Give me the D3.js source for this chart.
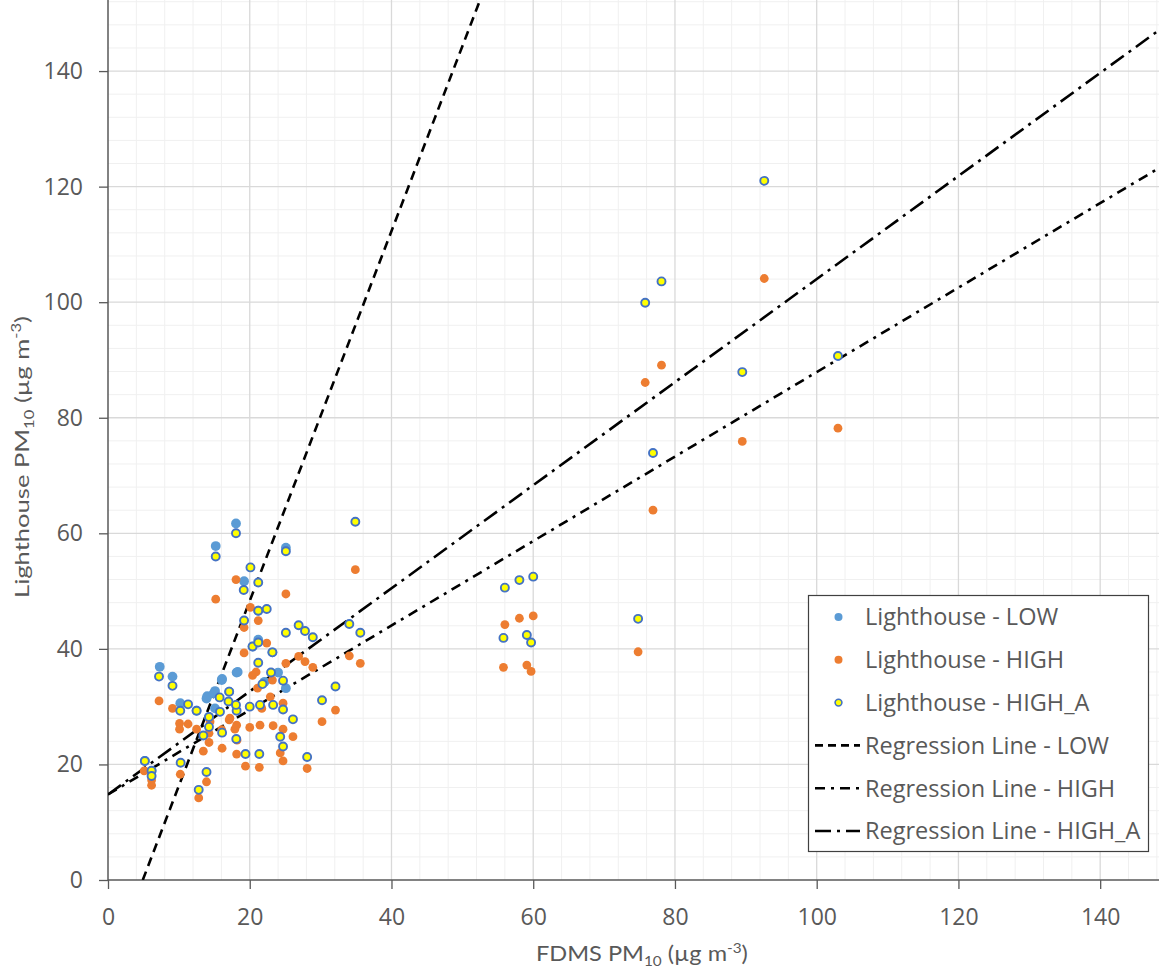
<!DOCTYPE html>
<html>
<head>
<meta charset="utf-8">
<script src="https://cdn.jsdelivr.net/npm/d3@7"></script>
<style>
  html, body { margin: 0; padding: 0; background: #fff; }
  svg { display: block; }
</style>
</head>
<body>
<svg id="chart" width="1159" height="971"></svg>
<script>
// ---------------- DATA ----------------
const seriesNames = ["Lighthouse - LOW", "Lighthouse - HIGH", "Lighthouse - HIGH_A"];
const lineNames = ["Regression Line - LOW", "Regression Line - HIGH", "Regression Line - HIGH_A"];

const xTicks = [0, 20, 40, 60, 80, 100, 120, 140];
const yTicks = [0, 20, 40, 60, 80, 100, 120, 140];

// [FDMS PM10, Lighthouse PM10]
const lowPoints = [
  [7.3,36.9],[9.1,35.2],[10.2,30.6],[13.9,31.4],[14.0,31.8],[14.9,32.3],[15.1,32.7],[15.1,29.7],
  [15.2,57.8],[16.05,34.6],[16.1,34.8],[18.06,61.7],[18.15,35.9],[18.3,36.0],[19.2,51.7],
  [21.2,41.6],[22.1,34.3],[24.0,35.9],[25.1,57.5],[25.1,33.2],[5.2,20.6],[6.15,18.9],
  [12.5,29.3],[14.25,28.2],[17.1,32.6],[20.4,40.4],[21.2,46.6],[23.2,39.4]
];
const highPoints = [
  [5.1,18.9],[6.15,17.3],[6.15,16.4],[7.2,31.0],[9.1,29.7],[10.1,27.1],[10.1,26.1],[10.2,18.3],
  [11.3,27.0],[12.5,26.1],[12.8,14.2],[13.45,22.3],[13.9,17.0],[14.25,25.4],[14.25,23.8],[14.4,27.4],
  [15.2,48.6],[16.05,26.0],[16.1,22.8],[17.1,27.7],[17.2,28.0],[17.9,26.1],[18.06,52.0],[18.15,21.8],
  [18.15,26.8],[18.2,24.2],[19.2,43.7],[19.2,39.3],[19.4,19.7],[20.0,26.4],[20.1,47.2],[20.4,35.4],
  [20.9,36.0],[21.1,33.2],[21.2,44.9],[21.35,19.5],[21.45,26.8],[21.7,29.7],[22.4,41.0],[22.9,31.7],
  [23.2,34.6],[23.3,26.7],[24.3,22.0],[24.7,30.6],[24.7,26.1],[24.7,20.6],[25.1,49.5],[25.1,37.5],
  [26.1,24.8],[26.9,38.7],[27.8,37.8],[28.1,19.3],[28.9,36.8],[30.2,27.4],[32.1,29.4],[34.05,38.8],
  [34.9,53.7],[35.6,37.5],[55.8,36.8],[56.0,44.2],[58.05,45.3],[59.1,37.2],[59.7,36.1],[60.0,45.7],
  [74.8,39.5],[75.8,86.1],[76.9,64.0],[78.1,89.1],[89.5,75.9],[92.6,104.1],[103.0,78.2]
];
const highAPoints = [
  [5.2,20.6],[6.15,18.9],[6.15,18.0],[7.2,35.2],[9.1,33.6],[10.2,29.3],[10.25,20.3],[11.3,30.4],
  [12.5,29.3],[12.8,15.6],[13.45,25.0],[13.9,18.7],[14.25,28.2],[14.25,26.5],[15.2,56.0],[15.75,31.6],
  [15.8,29.1],[16.1,25.5],[17.0,30.9],[17.1,32.6],[18.06,60.0],[18.1,24.4],[18.15,29.3],[18.06,30.3],
  [19.15,50.2],[19.2,44.9],[19.4,21.8],[20.0,30.0],[20.1,54.1],[20.4,40.4],[21.2,51.5],[21.2,46.6],
  [21.2,41.1],[21.2,37.6],[21.35,21.8],[21.45,30.3],[21.8,33.9],[22.4,46.9],[23.0,35.9],[23.2,39.4],
  [23.3,30.3],[24.3,24.8],[24.7,34.5],[24.7,29.5],[24.7,23.1],[25.1,56.9],[25.1,42.8],[26.1,27.8],
  [26.9,44.1],[27.8,43.1],[28.1,21.3],[28.9,42.0],[30.2,31.1],[32.1,33.5],[34.05,44.3],[34.9,62.0],
  [35.6,42.8],[55.8,41.9],[56.0,50.6],[58.05,51.9],[59.1,42.4],[59.7,41.1],[60.0,52.5],[74.8,45.2],
  [75.8,99.9],[76.9,73.9],[78.1,103.6],[89.5,87.9],[92.6,121.0],[103.0,90.7]
];

// regression lines: y = slope * x + intercept
const lowLine = { slope: 3.2, intercept: -15.7 };
const highLine = { slope: 0.731, intercept: 14.8 };
const highALine = { slope: 0.892, intercept: 14.8 };

// ---------------- DRAW ----------------
const svg = d3.select("#chart");
const plot = { left: 108, right: 1159, top: 0, bottom: 880 };

const x = d3.scaleLinear().domain([0, 148.3]).range([plot.left, plot.right]);
const y = d3.scaleLinear().domain([0, 152.3]).range([plot.bottom, plot.top]);

svg.append("defs").append("clipPath").attr("id", "clip")
  .append("rect").attr("x", plot.left).attr("y", plot.top)
  .attr("width", plot.right - plot.left).attr("height", plot.bottom - plot.top);

const textColor = "#595959";
const fontTick = "'Open Sans', 'Noto Sans', sans-serif";

// minor grid
const gGrid = svg.append("g");
const minorX = d3.range(0, 149, 4).filter(v => v % 20 !== 0);
const minorY = d3.range(0, 153, 4).filter(v => v % 20 !== 0);
gGrid.selectAll(".mx").data(minorX).join("line")
  .attr("x1", d => x(d)).attr("x2", d => x(d)).attr("y1", plot.top).attr("y2", plot.bottom)
  .attr("stroke", "#f0f0f0").attr("stroke-width", 1);
gGrid.selectAll(".my").data(minorY).join("line")
  .attr("y1", d => y(d)).attr("y2", d => y(d)).attr("x1", plot.left).attr("x2", plot.right)
  .attr("stroke", "#f0f0f0").attr("stroke-width", 1);
// major grid
gGrid.selectAll(".Mx").data(xTicks.filter(v => v > 0)).join("line")
  .attr("x1", d => x(d)).attr("x2", d => x(d)).attr("y1", plot.top).attr("y2", plot.bottom)
  .attr("stroke", "#d9d9d9").attr("stroke-width", 1.3);
gGrid.selectAll(".My").data(yTicks.filter(v => v > 0)).join("line")
  .attr("y1", d => y(d)).attr("y2", d => y(d)).attr("x1", plot.left).attr("x2", plot.right)
  .attr("stroke", "#d9d9d9").attr("stroke-width", 1.3);

// axes
const xAxis = d3.axisBottom(x).tickValues(xTicks).tickSize(9).tickPadding(20).tickFormat(d3.format("d"));
const yAxis = d3.axisLeft(y).tickValues(yTicks).tickSize(9).tickPadding(16).tickFormat(d3.format("d"));
const gx = svg.append("g").attr("transform", `translate(0,${plot.bottom})`).call(xAxis);
const gy = svg.append("g").attr("transform", `translate(${plot.left},0)`).call(yAxis);
[gx, gy].forEach(g => {
  g.select(".domain").attr("stroke", "#595959").attr("stroke-width", 1.5);
  g.selectAll(".tick line").attr("stroke", "#595959").attr("stroke-width", 1.3);
  g.selectAll(".tick text").attr("fill", textColor).style("font-family", fontTick).style("font-size", "23px");
});
gx.select(".domain").attr("d", `M${plot.left},0H${plot.right}`);
gy.select(".domain").attr("d", `M0,${plot.bottom}V${plot.top}`);

// regression lines
const gLines = svg.append("g").attr("clip-path", "url(#clip)");
function lineEnds(l) {
  const [x0, x1] = x.domain();
  const [y0, y1] = y.domain();
  let xa = x0, xb = x1;
  if (l.slope > 0) {
    xa = Math.max(x0, (y0 - l.intercept) / l.slope);
    xb = Math.min(x1, (y1 - l.intercept) / l.slope);
  }
  return [[xa, l.slope * xa + l.intercept], [xb, l.slope * xb + l.intercept]];
}
const lineGen = d3.line().x(d => x(d[0])).y(d => y(d[1]));
const lineStyles = [
  { data: lowLine, dash: "9,6" },
  { data: highLine, dash: "10,6,3,6" },
  { data: highALine, dash: "16,6,3,6" }
];
lineStyles.forEach(s => {
  gLines.append("path").attr("d", lineGen(lineEnds(s.data)))
    .attr("fill", "none").attr("stroke", "#000").attr("stroke-width", 2.6)
    .attr("stroke-dasharray", s.dash);
});

// points
const gPts = svg.append("g").attr("clip-path", "url(#clip)");
gPts.selectAll(".low").data(lowPoints).join("circle")
  .attr("cx", d => x(d[0])).attr("cy", d => y(d[1])).attr("r", 4.9)
  .attr("fill", "#5b9bd5");
gPts.selectAll(".high").data(highPoints).join("circle")
  .attr("cx", d => x(d[0])).attr("cy", d => y(d[1])).attr("r", 4.4)
  .attr("fill", "#ed7d31");
gPts.selectAll(".higha").data(highAPoints).join("circle")
  .attr("cx", d => x(d[0])).attr("cy", d => y(d[1])).attr("r", 4.0)
  .attr("fill", "#ffff00").attr("stroke", "#4472c4").attr("stroke-width", 1.9);

// axis titles
const fontTitle = "'Lato', 'Open Sans', sans-serif";
function addTitle(g, label, fs) {
  const t = g.append("text").attr("fill", textColor)
    .style("font-family", fontTitle).style("font-size", fs + "px");
  t.append("tspan").text(label);
  t.append("tspan").attr("dy", fs * 0.25).style("font-size", (fs * 0.65) + "px").text("10");
  t.append("tspan").attr("dy", -fs * 0.25).text(" (µg m");
  t.append("tspan").attr("dy", -fs * 0.4).style("font-size", (fs * 0.65) + "px").text("-3");
  t.append("tspan").attr("dy", fs * 0.4).text(")");
  return t;
}
// x title
const gxt = svg.append("g");
const xt = addTitle(gxt, "FDMS PM", 21);
const xw = xt.node().getBBox().width;
gxt.attr("transform", `translate(536,961) scale(${212 / xw},1)`);

// y title
const gyt = svg.append("g");
const yt = addTitle(gyt, "Lighthouse PM", 20);
const yw = yt.node().getBBox().width;
gyt.attr("transform", `translate(29,598) rotate(-90) scale(${282 / yw},1)`);

// legend
const lg = svg.append("g");
lg.append("rect").attr("x", 808.5).attr("y", 595.5).attr("width", 340).attr("height", 256)
  .attr("fill", "#fff").attr("stroke", "#404040").attr("stroke-width", 1.2);
const legendItems = [
  { name: seriesNames[0], type: "pt", fill: "#5b9bd5" },
  { name: seriesNames[1], type: "pt", fill: "#ed7d31" },
  { name: seriesNames[2], type: "ptA" },
  { name: lineNames[0], type: "ln", dash: "8,5" },
  { name: lineNames[1], type: "ln", dash: "10,6,3,6" },
  { name: lineNames[2], type: "ln", dash: "16,6,3,6" }
];
legendItems.forEach((it, i) => {
  const cy = 617 + i * 42.8;
  if (it.type === "pt") {
    lg.append("circle").attr("cx", 838.5).attr("cy", cy).attr("r", 4).attr("fill", it.fill);
  } else if (it.type === "ptA") {
    lg.append("circle").attr("cx", 838.5).attr("cy", cy).attr("r", 3.4)
      .attr("fill", "#ffff00").attr("stroke", "#4472c4").attr("stroke-width", 1.6);
  } else {
    lg.append("line").attr("x1", 815).attr("x2", 860).attr("y1", cy).attr("y2", cy)
      .attr("stroke", "#000").attr("stroke-width", 2.6).attr("stroke-dasharray", it.dash);
  }
  lg.append("text").attr("x", 865).attr("y", cy).attr("dy", "0.36em")
    .attr("fill", textColor).style("font-family", fontTick).style("font-size", "23.5px")
    .text(it.name);
});
</script>
</body>
</html>
